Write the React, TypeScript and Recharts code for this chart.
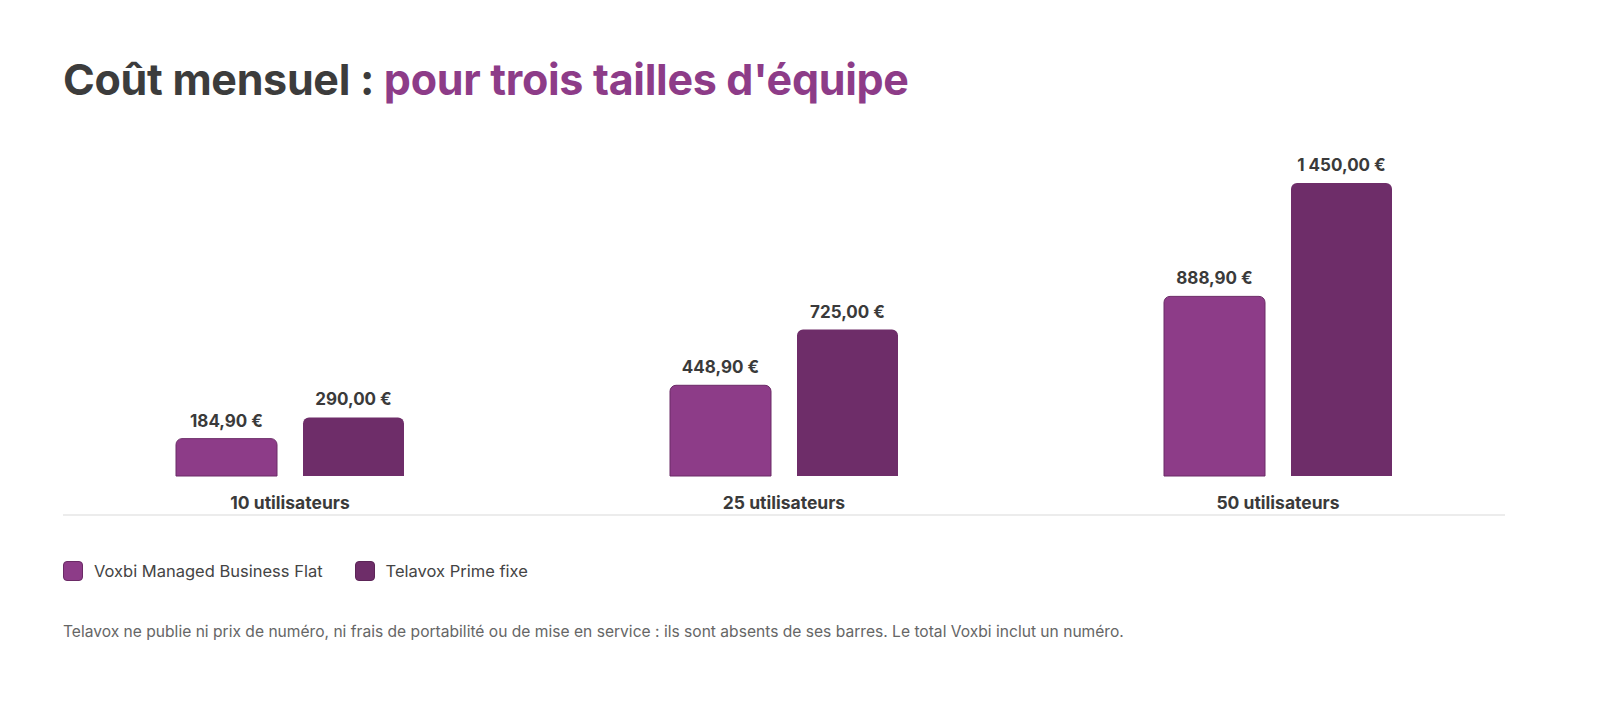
import React from "react";
import { Bar, BarChart, LabelList, XAxis, YAxis } from "recharts";

const categories = ["10 utilisateurs", "25 utilisateurs", "50 utilisateurs"];
const voxbiValues = [184.9, 448.9, 888.9];
const telavoxValues = [290, 725, 1450];
const seriesNames = ["Voxbi Managed Business Flat", "Telavox Prime fixe"];

const data = categories.map((name, i) => ({
  name,
  voxbi: voxbiValues[i],
  telavox: telavoxValues[i],
}));

const VOXBI = "#8d3c88";
const VOXBI_EDGE = "#6b2a66";
const TELAVOX = "#6e2d69";
const FONT = "Inter, 'Noto Sans', sans-serif";

function euro(v: number) {
  const [int, dec] = v.toFixed(2).split(".");
  const grouped = int.replace(/\B(?=(\d{3})+(?!\d))/g, "\u00a0");
  return `${grouped},${dec}\u00a0€`;
}

export default function App() {
  return (
    <div style={{ position: "relative", width: 1584, height: 697, fontFamily: FONT, background: "#fff" }}>
      <div
        style={{
          position: "absolute",
          left: 55,
          top: 46,
          fontSize: 43,
          fontWeight: 700,
          letterSpacing: -0.3,
          lineHeight: "50px",
          color: "#3c3c3c",
        }}
      >
        Coût mensuel : <span style={{ color: VOXBI }}>pour trois tailles d'équipe</span>
      </div>

      <div style={{ position: "absolute", left: 0, top: 122 }}>
        <BarChart
          width={1584}
          height={386}
          data={data}
          margin={{ top: 53, right: 67, bottom: 0, left: 35 }}
          barSize={101}
          barGap={26}
        >
          <XAxis
            dataKey="name"
            axisLine={false}
            tickLine={false}
            tickSize={0}
            tickMargin={21}
            height={40}
            tick={{ fill: "#3a3a3a", fontSize: 17.5, fontWeight: 700, fontFamily: FONT }}
          />
          <YAxis hide domain={[0, 1450]} />
          <Bar
            dataKey="voxbi"
            name={seriesNames[0]}
            fill={VOXBI}
            stroke={VOXBI_EDGE}
            strokeWidth={1}
            radius={[6, 6, 0, 0]}
            isAnimationActive={false}
          >
            <LabelList
              dataKey="voxbi"
              position="top"
              offset={12}
              formatter={(v: any) => euro(Number(v))}
              style={{ fill: "#3a3a3a", fontSize: 17, fontWeight: 700, fontFamily: FONT }}
            />
          </Bar>
          <Bar
            dataKey="telavox"
            name={seriesNames[1]}
            fill={TELAVOX}
            radius={[6, 6, 0, 0]}
            isAnimationActive={false}
          >
            <LabelList
              dataKey="telavox"
              position="top"
              offset={12}
              formatter={(v: any) => euro(Number(v))}
              style={{ fill: "#3a3a3a", fontSize: 17, fontWeight: 700, fontFamily: FONT }}
            />
          </Bar>
        </BarChart>
      </div>

      <div
        style={{
          position: "absolute",
          left: 55,
          top: 506,
          width: 1442,
          height: 2,
          background: "#ececec",
        }}
      />

      <div style={{ position: "absolute", left: 55, top: 553, display: "flex", alignItems: "center", fontSize: 16.5, color: "#444" }}>
        {seriesNames.map((n, i) => (
          <div key={n} style={{ display: "flex", alignItems: "center", marginRight: 32 }}>
            <span
              style={{
                display: "inline-block",
                width: 18,
                height: 18,
                borderRadius: 4,
                background: i === 0 ? VOXBI : TELAVOX,
                border: `1px solid ${i === 0 ? VOXBI_EDGE : "#5c2457"}`,
                marginRight: 11,
              }}
            />
            {n}
          </div>
        ))}
      </div>

      <div style={{ position: "absolute", left: 55, top: 614, fontSize: 15.6, color: "#666" }}>
        Telavox ne publie ni prix de numéro, ni frais de portabilité ou de mise en service : ils sont absents de ses barres. Le total Voxbi inclut un numéro.
      </div>
    </div>
  );
}
